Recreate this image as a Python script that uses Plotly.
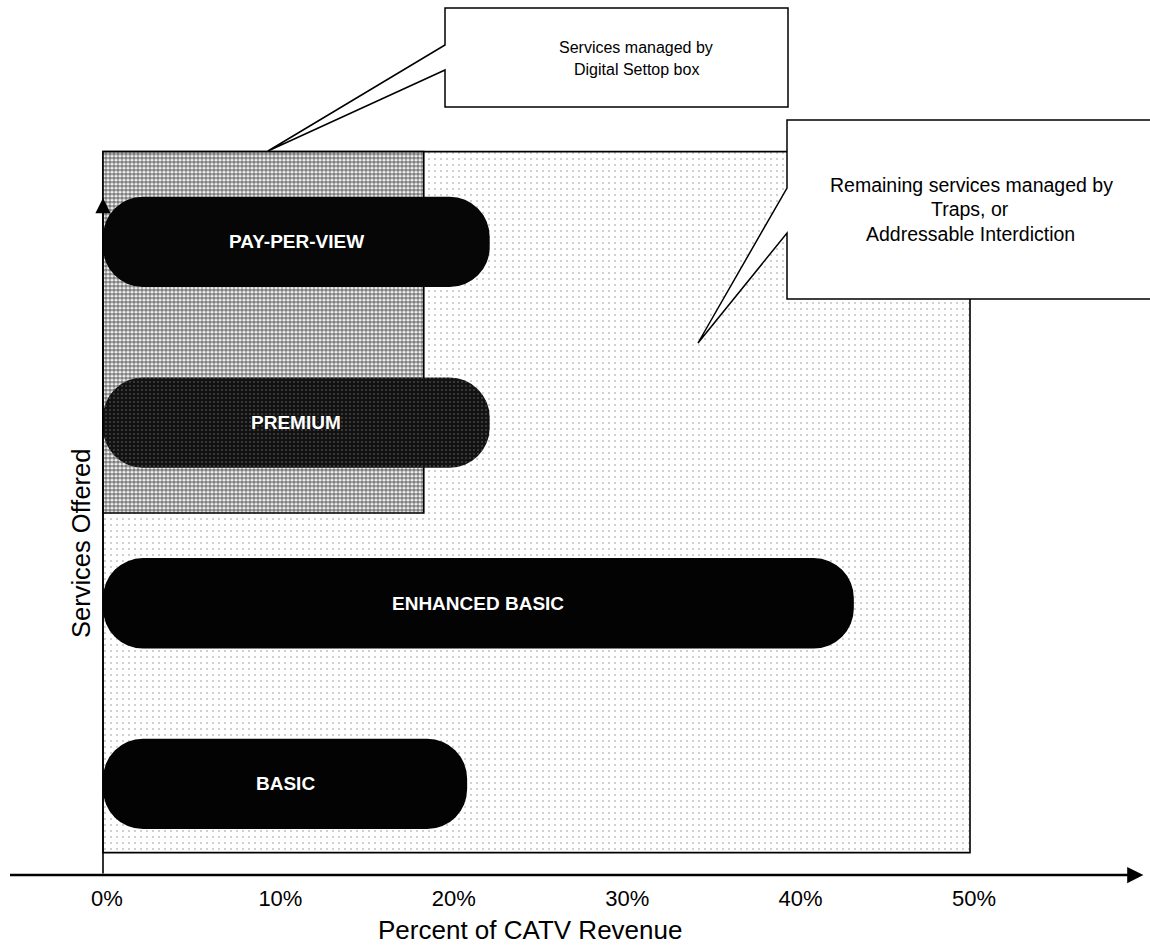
import plotly.graph_objects as go

# Service tiers and their share of CATV revenue (%)
services = ["BASIC", "ENHANCED BASIC", "PREMIUM", "PAY-PER-VIEW"]
revenue_pct = [21.0, 43.3, 22.3, 22.3]

# Axis ticks
tick_values = [0, 10, 20, 30, 40, 50]
tick_labels = ["0%", "10%", "20%", "30%", "40%", "50%"]

# Zones: tiers handled by the digital set-top box vs. everything else
settop_limit_pct = 18.5
settop_tiers = ["PREMIUM", "PAY-PER-VIEW"]
revenue_max_pct = 50

# ---------------------------------------------------------------------------
W, H = 1150, 949
PLOT_BOTTOM = 875                  # pixel row of the horizontal axis
X_RANGE = [-5.94, 60.38]
Y_RANGE = [-0.504, 4.339]

ypos = list(range(len(services)))
FONT = "Liberation Sans, Arial, sans-serif"


def paper(px, py):
    """Pixel position in the page -> paper coordinates of the plot area."""
    return px / W, (PLOT_BOTTOM - py) / PLOT_BOTTOM


fig = go.Figure()

# Outer zone: services managed by traps / addressable interdiction
zone_bottom, zone_top = -0.38, len(services) - 0.5
fig.add_trace(go.Bar(
    orientation="h", y=[(zone_bottom + zone_top) / 2], base=[0],
    x=[revenue_max_pct], width=zone_top - zone_bottom,
    marker=dict(color="white", line=dict(color="black", width=1.6),
                pattern=dict(shape=".", fgcolor="#8a8a8a", size=6,
                             solidity=0.1)),
    hoverinfo="skip", showlegend=False))

# Inner zone: tiers managed by the digital set-top box
s_lo = services.index(settop_tiers[0]) - 0.5
s_hi = services.index(settop_tiers[-1]) + 0.5
fig.add_trace(go.Bar(
    orientation="h", y=[(s_lo + s_hi) / 2], base=[0],
    x=[settop_limit_pct], width=s_hi - s_lo,
    marker=dict(color="white", line=dict(color="black", width=1.6),
                pattern=dict(shape=".", fgcolor="#000000", size=4,
                             solidity=0.68)),
    hoverinfo="skip", showlegend=False))

# Pill-shaped bars (floating bars with an explicit base get all four
# corners rounded)
bar_style = {
    "BASIC": dict(color="#030303"),
    "ENHANCED BASIC": dict(color="#030303"),
    "PREMIUM": dict(color="#121212",
                    pattern=dict(shape=".", fgcolor="#7a7a7a", size=4,
                                 solidity=0.18)),
    "PAY-PER-VIEW": dict(color="#060606"),
}
for name, v, y in zip(services, revenue_pct, ypos):
    fig.add_trace(go.Bar(
        orientation="h", y=[y], base=[0], x=[v], width=0.5,
        marker=dict(cornerradius=40, line=dict(width=0), **bar_style[name]),
        hoverinfo="skip", showlegend=False))

annotations = []
for name, v, y in zip(services, revenue_pct, ypos):
    annotations.append(dict(
        x=v / 2, y=y, xref="x", yref="y", text=f"<b>{name}</b>",
        xanchor="center", yanchor="middle",
        showarrow=False, font=dict(family=FONT, size=19, color="white")))

# Vertical axis with arrowhead
annotations.append(dict(
    x=0, y=3.243, xref="x", yref="y", ax=0, ay=Y_RANGE[0],
    axref="x", ayref="y", text="", showarrow=True,
    arrowhead=2, arrowwidth=1.6, arrowsize=1.9, arrowcolor="black"))
# Horizontal axis with arrowhead
annotations.append(dict(
    x=60.0, y=Y_RANGE[0], xref="x", yref="y", ax=-5.45, ay=Y_RANGE[0],
    axref="x", ayref="y", text="", showarrow=True,
    arrowhead=2, arrowwidth=2.6, arrowsize=1.25, arrowcolor="black"))

# Axis titles
tx, ty = paper(530, 930)
annotations.append(dict(x=tx, y=ty, xref="paper", yref="paper",
                        xanchor="center", yanchor="middle",
                        text="Percent of CATV Revenue", showarrow=False,
                        font=dict(family=FONT, size=26, color="black")))
tx, ty = paper(81, 544)
annotations.append(dict(x=tx, y=ty, xref="paper", yref="paper",
                        xanchor="center", yanchor="middle",
                        text="Services Offered", showarrow=False, textangle=-90,
                        font=dict(family=FONT, size=25.5, color="black")))

# Callout outlines (box with a wedge pointing into the chart)
def callout_path(pts):
    coords = [paper(px, py) for px, py in pts]
    return "M " + " L ".join(f"{a:.5f},{b:.5f}" for a, b in coords) + " Z"


shapes = [
    dict(type="path", xref="paper", yref="paper", layer="above",
         path=callout_path([(445, 8), (788, 8), (788, 107), (445, 107),
                            (445, 70), (268, 151), (445, 45)]),
         fillcolor="white", line=dict(color="black", width=1.5)),
    dict(type="path", xref="paper", yref="paper", layer="above",
         path=callout_path([(787, 120), (1160, 120), (1160, 299), (787, 299),
                            (787, 233), (698, 343), (787, 188)]),
         fillcolor="white", line=dict(color="black", width=1.5)),
]

callout_lines = [
    ("Services managed by", 636, 47, 16),
    ("Digital Settop box", 636, 70, 16),
    ("Remaining services managed by", 971, 185, 19.5),
    ("Traps, or", 970, 209, 19.5),
    ("Addressable Interdiction", 970, 234, 19.5),
]
for text, px, py, size in callout_lines:
    tx, ty = paper(px, py)
    annotations.append(dict(x=tx, y=ty, xref="paper", yref="paper", text=text,
                            xanchor="center", yanchor="middle",
                            showarrow=False,
                            font=dict(family=FONT, size=size, color="black")))

fig.update_layout(
    width=W, height=H,
    margin=dict(l=0, r=0, t=0, b=H - PLOT_BOTTOM, pad=0),
    paper_bgcolor="white", plot_bgcolor="white",
    barmode="overlay",
    xaxis=dict(range=X_RANGE, tickvals=tick_values, ticktext=tick_labels,
               showgrid=False, zeroline=False, showline=False, ticks="",
               ticklabelstandoff=8, ticklabelshift=4,
               tickfont=dict(family=FONT, size=22, color="black")),
    yaxis=dict(range=Y_RANGE, showgrid=False, zeroline=False, showline=False,
               showticklabels=False, ticks=""),
    annotations=annotations, shapes=shapes,
)

fig.write_html("out.html")
